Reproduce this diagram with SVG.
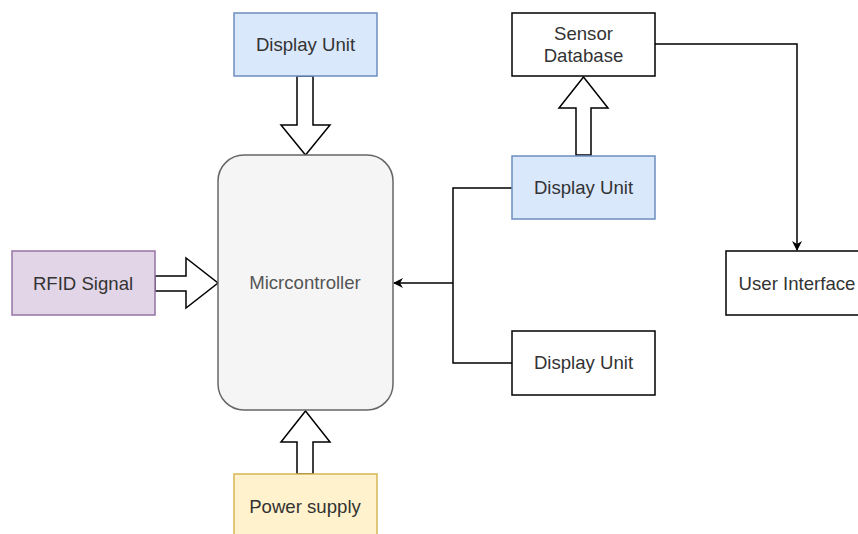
<svg xmlns="http://www.w3.org/2000/svg" width="858" height="534" viewBox="0 0 858 534">
  <style>
    .box { stroke-width: 1.5; }
    .plain { fill: #ffffff; stroke: #000000; }
    .blue { fill: #dae8fc; stroke: #6c8ebf; }
    .purple { fill: #e1d5e7; stroke: #9673a6; }
    .yellow { fill: #fff2cc; stroke: #d6b656; }
    .grey { fill: #f5f5f5; stroke: #666666; }
    .lbl { font-family: "Liberation Sans", Arial, sans-serif; font-size: 18.6px; fill: #333333; text-anchor: middle; }
    .lbl-grey { fill: #555555; }
    .block { fill: #ffffff; stroke: #000000; stroke-width: 1.5; stroke-linejoin: miter; }
    .wire { fill: none; stroke: #000000; stroke-width: 1.5; }
  </style>
  <defs>
    <marker id="head" viewBox="0 0 10 10" refX="9" refY="5" markerWidth="10" markerHeight="10" markerUnits="userSpaceOnUse" orient="auto">
      <path d="M0,0 L10,5 L0,10 L3,5 Z" fill="#000000"/>
    </marker>
  </defs>
  <rect width="858" height="534" fill="#ffffff"/>

  <!-- connectors -->
  <g id="connectors">
    <!-- block arrows -->
    <path class="block" d="M297,76 L313,76 L313,125 L330,125 L305.5,155 L281,125 L297,125 Z"/>
    <path class="block" d="M576,155 L591,155 L591,108 L608,108 L583.5,77 L559,108 L576,108 Z"/>
    <path class="block" d="M155,276 L186,276 L186,258 L218,283 L186,308 L186,291 L155,291 Z"/>
    <path class="block" d="M297,474 L313,474 L313,442 L330,442 L305.5,411 L281,442 L297,442 Z"/>
    <!-- display units to microcontroller -->
    <path class="wire" d="M512,188 L453,188 L453,363 L512,363"/>
    <path class="wire" d="M453,283 L394,283" marker-end="url(#head)"/>
    <!-- database to user interface -->
    <path class="wire" d="M655,44 L797,44 L797,250" marker-end="url(#head)"/>
  </g>

  <g id="display-top">
    <rect class="box blue" x="234" y="13" width="143" height="63"/>
    <text class="lbl" x="305.5" y="51">Display Unit</text>
  </g>

  <g id="microcontroller">
    <rect class="box grey" x="218" y="155" width="175" height="255" rx="26" ry="26"/>
    <text class="lbl lbl-grey" x="305" y="289">Micrcontroller</text>
  </g>

  <g id="rfid">
    <rect class="box purple" x="12" y="251" width="143" height="64"/>
    <text class="lbl" x="83" y="290">RFID Signal</text>
  </g>

  <g id="power">
    <rect class="box yellow" x="234" y="474" width="143" height="63"/>
    <text class="lbl" x="305" y="513">Power supply</text>
  </g>

  <g id="sensor-db">
    <rect class="box plain" x="512" y="13" width="143" height="63"/>
    <text class="lbl" x="583.5" y="40">Sensor</text>
    <text class="lbl" x="583.5" y="62">Database</text>
  </g>

  <g id="display-mid">
    <rect class="box blue" x="512" y="156" width="143" height="63"/>
    <text class="lbl" x="583.5" y="194">Display Unit</text>
  </g>

  <g id="display-low">
    <rect class="box plain" x="512" y="331" width="143" height="64"/>
    <text class="lbl" x="583.5" y="369">Display Unit</text>
  </g>

  <g id="user-interface">
    <rect class="box plain" x="726" y="251" width="143" height="64"/>
    <text class="lbl" x="797" y="290">User Interface</text>
  </g>
</svg>
